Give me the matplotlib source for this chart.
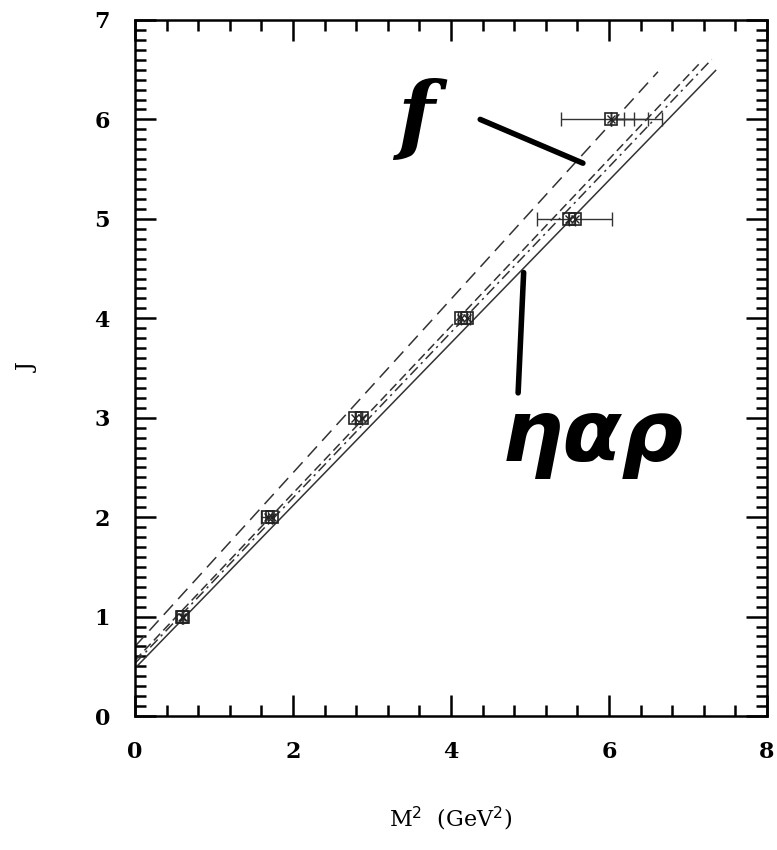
import matplotlib.pyplot as plt
import numpy as np
from matplotlib.ticker import MultipleLocator

# meson states (M^2 in GeV^2, spin J)
m2 = [0.59, 0.61, 1.68, 1.74, 2.79, 2.87, 4.13, 4.20, 5.50, 5.57, 6.03]
spin = [1, 1, 2, 2, 3, 3, 4, 4, 5, 5, 6]
err_lo = [0.0, 0.0, 0.08, 0.0, 0.0, 0.0, 0.04, 0.0, 0.41, 0.0, 0.64]
err_hi = [0.0, 0.0, 0.0, 0.0, 0.0, 0.0, 0.0, 0.04, 0.0, 0.47, 0.64]
# extra upper error bars on the J=6 state
j6_hi = [0.16, 0.29, 0.46]

# Regge trajectories J = a0 + a1 * M^2
traj_a0 = [0.70, 0.56, 0.53, 0.48]
traj_a1 = [0.873, 0.840, 0.832, 0.818]
traj_xmax = [6.62, 7.15, 7.30, 7.35]
traj_style = [(0, (9, 5)), (0, (6, 3)), (0, (7, 3, 1.5, 3)), "-"]

fig = plt.figure(figsize=(7.77, 8.5), dpi=100)
ax = fig.add_axes([0.1737, 0.1576, 0.8134, 0.8189])

for a0, a1, xm, ls in zip(traj_a0, traj_a1, traj_xmax, traj_style):
    xs = np.array([0, xm])
    ax.plot(xs, a0 + a1 * xs, color="#333333", lw=1.1, linestyle=ls)

ax.errorbar(m2, spin, xerr=[err_lo, err_hi], fmt="none", ecolor="#333333",
            elinewidth=1, capsize=5)
ax.errorbar([m2[-1]] * 3, [6] * 3, xerr=[[0, 0, 0], j6_hi], fmt="none",
            ecolor="#333333", elinewidth=1, capsize=5)
ax.plot(m2, spin, "s", ms=8, mfc="none", mec="#222222", mew=1.2)
ax.plot(m2, spin, "x", ms=6, mec="#222222", mew=1)

ax.set_xlim(0, 8)
ax.set_ylim(0, 7)
ax.xaxis.set_major_locator(MultipleLocator(2))
ax.xaxis.set_minor_locator(MultipleLocator(0.4))
ax.yaxis.set_major_locator(MultipleLocator(1))
ax.yaxis.set_minor_locator(MultipleLocator(0.1))
ax.tick_params(which="both", direction="in", top=True, right=True, width=1.8)
ax.tick_params(which="major", length=15, labelsize=16, pad=18)
ax.tick_params(which="minor", length=8)
for s in ax.spines.values():
    s.set_linewidth(1.8)
for lab in ax.get_xticklabels() + ax.get_yticklabels():
    lab.set_family("DejaVu Serif")
    lab.set_fontweight("semibold")

ax.set_xlabel("M$^2$  (GeV$^2$)", fontsize=16, family="DejaVu Serif", labelpad=30)
ax.set_ylabel("J", fontsize=16, family="DejaVu Serif", labelpad=40)

# hand annotations
ax.plot([4.37, 5.67], [6.0, 5.56], color="black", lw=4, solid_capstyle="round")
ax.plot([4.92, 4.85], [4.46, 3.25], color="black", lw=4, solid_capstyle="round")
ax.text(3.55, 6.0, "f", fontsize=62, fontweight="bold", fontstyle="italic",
        family="DejaVu Serif", ha="center", va="center")
ax.text(5.8, 2.8, "ηαρ", fontsize=62, fontweight="bold", fontstyle="italic",
        family="DejaVu Sans", ha="center", va="center")

fig.savefig("out.png", dpi=100)
